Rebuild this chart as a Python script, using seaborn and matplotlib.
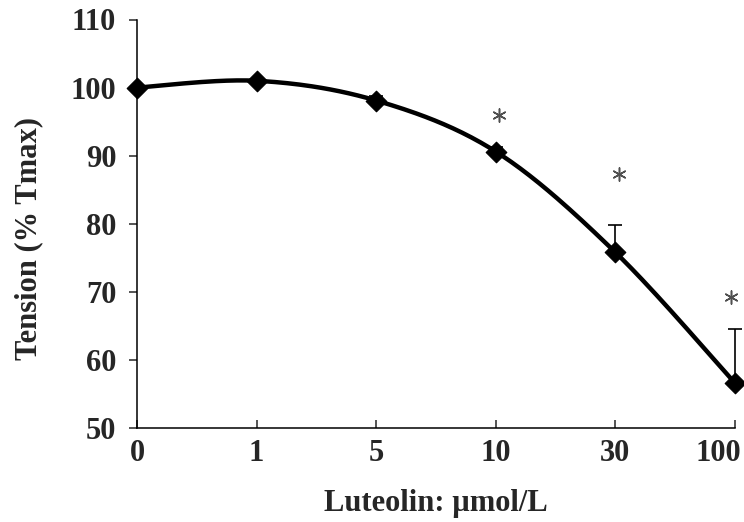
import numpy as np
import pandas as pd
import matplotlib.pyplot as plt
import matplotlib.transforms as mtransforms
import seaborn as sns

# data
doses = ['0', '1', '5', '10', '30', '100']
tension = [100.0, 101.0, 98.1, 90.6, 75.8, 56.6]
sd_up = [0.3, 0.3, 0.6, 0.6, 4.0, 7.9]
significant = [False, False, False, True, True, True]
star_y = [None, None, None, 96.0, 87.3, 69.3]

sns.set_theme(style='ticks')
plt.rcParams['font.family'] = ['Liberation Serif', 'DejaVu Serif']
plt.rcParams['font.weight'] = 'bold'

df = pd.DataFrame({'pos': np.arange(len(doses)), 'dose': doses,
                   'tension': tension, 'sd': sd_up})

# smooth line like Excel's "smoothed line" (Catmull-Rom through the points)
p = df[['pos', 'tension']].to_numpy(dtype=float)
ext = np.vstack([p[0], p, p[-1]])
curve = []
for i in range(1, len(ext) - 2):
    p0, p1, p2, p3 = ext[i - 1], ext[i], ext[i + 1], ext[i + 2]
    t = np.linspace(0, 1, 40)[:, None]
    seg = 0.5 * ((2 * p1) + (-p0 + p2) * t + (2 * p0 - 5 * p1 + 4 * p2 - p3) * t**2
                 + (-p0 + 3 * p1 - 3 * p2 + p3) * t**3)
    curve.append(seg)
curve = pd.DataFrame(np.vstack(curve), columns=['x', 'y'])

# asterisks sit a little right of the point, but stay inside the figure
stars = pd.DataFrame({'pos': np.minimum(df['pos'][significant] + 0.03, 4.97),
                      'y': [s for s, g in zip(star_y, significant) if g]})

fig = plt.figure(figsize=(7.44, 5.22), dpi=100)
ax = fig.add_axes([137 / 744, (522 - 428) / 522, 598 / 744, 408.5 / 522])

ax.errorbar(df['pos'], df['tension'], yerr=[np.zeros(len(df)), df['sd']],
            fmt='none', ecolor='black', elinewidth=1.2, capsize=5, capthick=1.2,
            zorder=2, clip_on=False)
sns.lineplot(data=curve, x='x', y='y', sort=False, color='black', lw=3.2,
             ax=ax, zorder=3, clip_on=False)
sns.scatterplot(data=df, x='pos', y='tension', marker='D', color='black', s=110,
                edgecolor='black', ax=ax, zorder=4, clip_on=False)
sns.scatterplot(data=stars, x='pos', y='y', marker=(6, 2, 0),
                s=90, color='#505050', linewidth=1.1, ax=ax, zorder=4, clip_on=False)

ax.set_xlim(0, 5)
ax.set_ylim(50, 110)
ax.set_xticks(df['pos'])
ax.set_xticklabels(doses)
ax.set_yticks(np.arange(50, 111, 10))
sns.despine(ax=ax)
for s in ['left', 'bottom']:
    ax.spines[s].set_linewidth(1.1)
    ax.spines[s].set_color('black')
ax.tick_params(axis='x', direction='in', length=6, width=1.1, pad=8, labelsize=22)
ax.tick_params(axis='y', direction='out', length=6, width=1.1, pad=9, labelsize=22)

# last x label sits inside the plot edge, as in the original
last = ax.get_xticklabels()[-1]
last.set_horizontalalignment('right')
last.set_transform(last.get_transform() + mtransforms.ScaledTranslation(6 / 100, 0, fig.dpi_scale_trans))

ax.set_xlabel('Luteolin: µmol/L', fontsize=22, fontweight='bold')
ax.set_ylabel('Tension (% Tmax)', fontsize=22, fontweight='bold')
ax.xaxis.set_label_coords(0.5, -0.15)
ax.yaxis.set_label_coords(-0.157, 0.465)

fig.savefig('out.png', dpi=100)
